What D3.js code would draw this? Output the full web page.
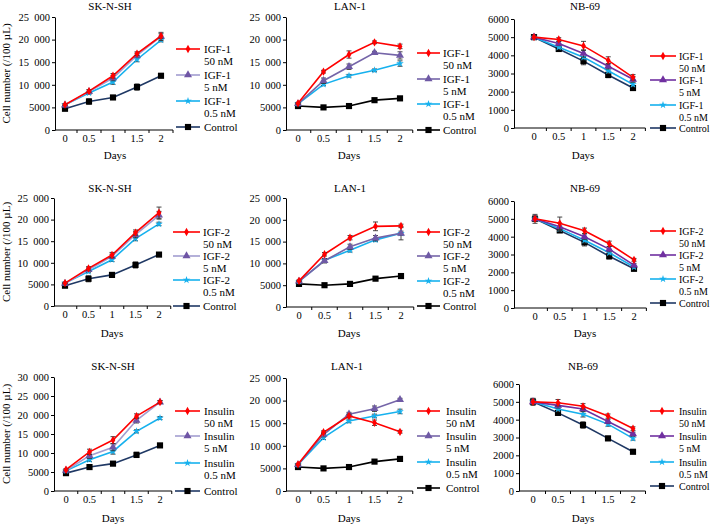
<!DOCTYPE html>
<html>
<head>
<meta charset="utf-8">
<script src="https://cdn.jsdelivr.net/npm/d3@7"></script>
<style>
  body { margin: 0; background: #fff; }
  svg { font-family: "Liberation Serif", "Times New Roman", serif; }
</style>
</head>
<body>
<svg id="chart" width="710" height="524"></svg>
<script>
// ---- data ----
const days = ["0", "0.5", "1", "1.5", "2"];
const cells = ["SK-N-SH", "LAN-1", "NB-69"];
const factors = ["IGF-1", "IGF-2", "Insulin"];
const doses = ["50 nM", "5 nM", "0.5 nM"];

// each: [50 nM, 5 nM, 0.5 nM, Control]
const igf1_sknsh = [
  [5600, 8600, 12000, 16900, 20800],
  [5500, 8500, 11500, 16500, 20700],
  [5600, 8200, 10600, 15600, 19900],
  [4700, 6300, 7200, 9500, 12000]];
const igf1_sknsh_err = [
  [200, 300, 500, 400, 500], [200, 400, 600, 500, 900],
  [200, 300, 500, 500, 400], [400, 600, 400, 700, 400]];

const igf1_lan1 = [
  [5900, 12900, 16700, 19400, 18500],
  [5800, 10900, 14000, 17100, 16500],
  [5800, 10100, 12000, 13200, 14700],
  [5300, 5000, 5300, 6600, 7000]];
const igf1_lan1_err = [
  [200, 300, 800, 300, 500], [200, 600, 600, 300, 800],
  [200, 300, 300, 300, 600], [300, 200, 200, 200, 300]];

const igf1_nb69 = [
  [5000, 4870, 4520, 3720, 2790],
  [5000, 4650, 4100, 3400, 2680],
  [5000, 4450, 3900, 3150, 2400],
  [5000, 4350, 3680, 2920, 2200]];
const igf1_nb69_err = [
  [80, 100, 250, 200, 150], [80, 120, 200, 150, 150],
  [80, 100, 150, 150, 120], [80, 120, 200, 150, 120]];

const igf2_sknsh = [
  [5300, 8700, 11800, 17000, 21600],
  [5200, 8400, 11500, 16500, 21000],
  [5300, 8000, 10700, 15600, 19000],
  [4700, 6300, 7200, 9500, 11900]];
const igf2_sknsh_err = [
  [200, 400, 600, 600, 1300], [200, 400, 500, 700, 900],
  [200, 300, 400, 500, 400], [400, 700, 400, 700, 400]];

const igf2_lan1 = [
  [6000, 12100, 15900, 18500, 18600],
  [5900, 10600, 13800, 15800, 16900],
  [5900, 10700, 13000, 15400, 16900],
  [5300, 5000, 5300, 6500, 7100]];
const igf2_lan1_err = [
  [200, 400, 500, 1000, 400], [200, 500, 600, 600, 1500],
  [200, 300, 400, 400, 500], [300, 200, 200, 300, 300]];

const igf2_nb69 = [
  [5000, 4750, 4330, 3600, 2700],
  [5000, 4550, 4000, 3300, 2400],
  [5000, 4450, 3800, 3100, 2300],
  [5000, 4350, 3680, 2900, 2200]];
const igf2_nb69_err = [
  [150, 350, 150, 150, 80], [150, 200, 150, 150, 100],
  [150, 150, 150, 120, 100], [250, 120, 200, 150, 120]];

const ins_sknsh = [
  [5600, 10300, 13400, 19700, 23400],
  [5400, 9300, 11500, 18600, 23400],
  [5300, 8200, 10400, 15700, 19200],
  [4700, 6300, 7200, 9500, 12000]];
const ins_sknsh_err = [
  [300, 700, 900, 600, 400], [300, 700, 900, 700, 400],
  [300, 400, 700, 400, 400], [400, 600, 400, 700, 400]];

const ins_lan1 = [
  [5900, 13000, 16600, 15100, 13100],
  [5800, 12500, 17000, 18200, 20200],
  [5800, 11800, 15500, 16600, 17600],
  [5300, 5000, 5300, 6500, 7100]];
const ins_lan1_err = [
  [200, 300, 400, 600, 300], [200, 500, 400, 600, 300],
  [200, 400, 400, 400, 500], [300, 200, 200, 300, 300]];

const ins_nb69 = [
  [5000, 4950, 4750, 4200, 3500],
  [5000, 4800, 4600, 3900, 3200],
  [5000, 4600, 4300, 3750, 2950],
  [5000, 4380, 3700, 2950, 2200]];
const ins_nb69_err = [
  [150, 180, 150, 120, 100], [150, 150, 150, 120, 100],
  [150, 150, 150, 120, 100], [200, 120, 180, 120, 80]];

const yMaxes = [[25000, 25000, 6000], [25000, 25000, 6000], [30000, 25000, 6000]];
const yStepsNB = 1000, yStepsBig = 5000;

// ---- layout (per panel) ----
const layout = [
  {ax: 55, c0: 65, c4: 161, top: 17, bot: 130, title: [110, 10], days: [115, 159], lx: [176, 200, 204], ly: [49, 75, 101, 127]},
  {ax: 286, c0: 298, c4: 400, top: 17, bot: 130, title: [350, 10], days: [349, 159], lx: [417, 440, 443], ly: [53, 79, 104, 130]},
  {ax: 514, c0: 534, c4: 633, top: 19, bot: 128, title: [585, 10], days: [583, 159], lx: [650, 676, 679], ly: [56, 80, 105, 128]},
  {ax: 54, c0: 65, c4: 159, top: 198, bot: 306, title: [110, 192], days: [112, 337], lx: [173, 200, 203], ly: [232, 256, 280, 306]},
  {ax: 286, c0: 299, c4: 401, top: 198, bot: 307, title: [350, 192], days: [349, 337], lx: [417, 440, 443], ly: [232, 256, 281, 306]},
  {ax: 514, c0: 535, c4: 634, top: 201, bot: 308, title: [585, 192], days: [585, 337], lx: [650, 676, 679], ly: [231, 255, 279, 303]},
  {ax: 54, c0: 66, c4: 160, top: 377, bot: 491, title: [113, 370], days: [113, 522], lx: [175, 200, 204], ly: [411, 436, 463, 491]},
  {ax: 286, c0: 298, c4: 400, top: 378, bot: 491, title: [347, 370], days: [349, 522], lx: [417, 440, 446], ly: [411, 436, 462, 488]},
  {ax: 519, c0: 533, c4: 633, top: 384, bot: 491, title: [583, 370], days: [583, 522], lx: [650, 674, 679], ly: [411, 436, 462, 486]}
];

const panelData = [
  [igf1_sknsh, igf1_sknsh_err], [igf1_lan1, igf1_lan1_err], [igf1_nb69, igf1_nb69_err],
  [igf2_sknsh, igf2_sknsh_err], [igf2_lan1, igf2_lan1_err], [igf2_nb69, igf2_nb69_err],
  [ins_sknsh, ins_sknsh_err], [ins_lan1, ins_lan1_err], [ins_nb69, ins_nb69_err]
];

// colours by cell line column: [50, 5, 0.5, control]
const lineColors = [
  ["#ff0000", "#a29dd0", "#16b1ee", "#1f3864"],
  ["#ff0000", "#7565a8", "#16b1ee", "#000000"],
  ["#ff0000", "#7030a0", "#16b1ee", "#1f3864"]
];
const markColors = [
  ["#ff0000", "#6f55a5", "#16b1ee", "#000000"],
  ["#ff0000", "#6f5aa5", "#16b1ee", "#000000"],
  ["#ff0000", "#7030a0", "#16b1ee", "#000000"]
];
const symbols = [d3.symbolDiamond, d3.symbolTriangle, d3.symbolStar, d3.symbolSquare];
const symSizes = [20, 28, 18, 38];
const legendFont = [11, 11, 10];

const fmt = v => v >= 10000 ? d3.format(",")(v).replace(",", "\u2002") : String(v);

const svg = d3.select("#chart");

panelData.forEach(([vals, errs], i) => {
  const row = Math.floor(i / 3), col = i % 3;
  const L = layout[i];
  const band = (L.c4 - L.c0) / 4;
  const x = d3.scaleBand().domain(days).range([L.c0 - band / 2, L.c4 + band / 2]);
  const yMax = yMaxes[row][col];
  const y = d3.scaleLinear().domain([0, yMax]).range([L.bot, L.top]);
  const step = yMax <= 6000 ? yStepsNB : yStepsBig;
  const g = svg.append("g");

  // y axis
  const yAxis = d3.axisLeft(y).tickValues(d3.range(0, yMax + 1, step))
    .tickFormat(fmt).tickSize(3).tickSizeOuter(0);
  const ya = g.append("g").attr("transform", `translate(${L.ax},0)`).call(yAxis);
  ya.attr("font-family", null);
  ya.selectAll("text").attr("font-size", 10.5).attr("x", -5);

  // x axis: line from y axis, ticks between categories
  g.append("line").attr("x1", L.ax).attr("x2", x.range()[1])
    .attr("y1", L.bot).attr("y2", L.bot).attr("stroke", "#000");
  const bounds = days.slice(1).map(d => x(d)).concat([x.range()[1]]);
  g.selectAll(".xt").data(bounds).enter().append("line")
    .attr("x1", d => d).attr("x2", d => d).attr("y1", L.bot).attr("y2", L.bot + 3)
    .attr("stroke", "#000");
  g.selectAll(".xl").data(days).enter().append("text")
    .attr("x", d => x(d) + band / 2).attr("y", L.bot + 12)
    .attr("text-anchor", "middle").attr("font-size", 10.5).text(d => d);

  // title and axis labels
  g.append("text").attr("x", L.title[0]).attr("y", L.title[1])
    .attr("text-anchor", "middle").attr("font-size", 11).text(cells[col]);
  g.append("text").attr("x", L.days[0]).attr("y", L.days[1])
    .attr("text-anchor", "middle").attr("font-size", 11).text("Days");
  if (col === 0) {
    g.append("text")
      .attr("transform", `translate(10,${(L.top + L.bot) / 2}) rotate(-90)`)
      .attr("text-anchor", "middle").attr("font-size", 11).text("Cell number (/100 µL)");
  }

  const cx = d => x(d) + band / 2;
  const line = d3.line().x((v, j) => cx(days[j])).y(v => y(v));

  // control first so treatments sit on top
  [3, 2, 1, 0].forEach(s => {
    const sg = g.append("g");
    sg.append("path").datum(vals[s]).attr("d", line)
      .attr("fill", "none").attr("stroke", lineColors[col][s]).attr("stroke-width", 1.6);
    // error bars
    vals[s].forEach((v, j) => {
      const e = errs[s][j], px = cx(days[j]);
      sg.append("line").attr("x1", px).attr("x2", px).attr("y1", y(v - e)).attr("y2", y(v + e))
        .attr("stroke", "#333").attr("stroke-width", 0.9);
      [v - e, v + e].forEach(w => sg.append("line")
        .attr("x1", px - 2.5).attr("x2", px + 2.5).attr("y1", y(w)).attr("y2", y(w))
        .attr("stroke", "#333").attr("stroke-width", 0.9));
    });
    sg.selectAll("path.m").data(vals[s]).enter().append("path").attr("class", "m")
      .attr("d", d3.symbol().type(symbols[s]).size(symSizes[s]))
      .attr("transform", (v, j) => `translate(${cx(days[j])},${y(v)})`)
      .attr("fill", markColors[col][s]);
  });

  // legend
  const labels = doses.map(d => [factors[row], d]).concat([["Control"]]);
  labels.forEach((lab, s) => {
    const ly = L.ly[s];
    g.append("line").attr("x1", L.lx[0]).attr("x2", L.lx[1]).attr("y1", ly).attr("y2", ly)
      .attr("stroke", lineColors[col][s]).attr("stroke-width", 1.6);
    g.append("path").attr("d", d3.symbol().type(symbols[s]).size(symSizes[s]))
      .attr("transform", `translate(${(L.lx[0] + L.lx[1]) / 2},${ly})`)
      .attr("fill", markColors[col][s]);
    const t = g.append("text").attr("x", L.lx[2]).attr("y", ly + 4).attr("font-size", legendFont[col]);
    lab.forEach((str, k) => t.append("tspan").attr("x", L.lx[2]).attr("dy", k ? 12 : 0).text(str));
  });
});
</script>
</body>
</html>
